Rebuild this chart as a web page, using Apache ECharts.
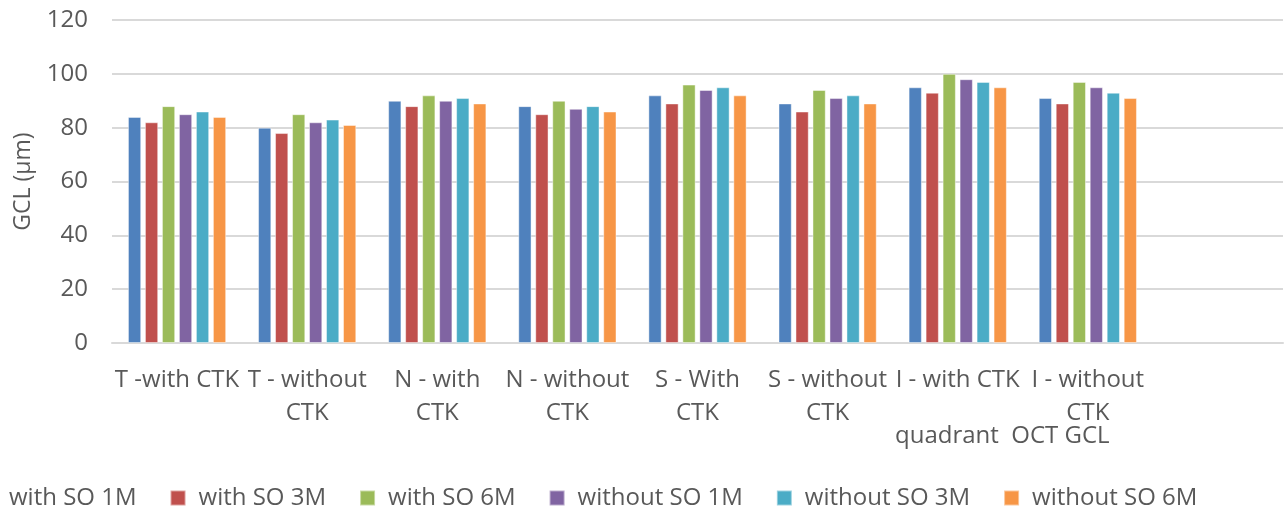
<!DOCTYPE html>
<html>
<head>
<meta charset="utf-8">
<style>
  html, body { margin: 0; padding: 0; background: #ffffff; }
  #chart { width: 1287px; height: 510px; }
</style>
<script src="https://cdn.jsdelivr.net/npm/echarts@6/dist/echarts.min.js"></script>
</head>
<body>
<div id="chart"></div>
<script>
// Quadrant OCT GCL thickness by group and follow-up month
const categories = [
  'T -with CTK', 'T - without\nCTK', 'N - with\nCTK', 'N - without\nCTK',
  'S - With\nCTK', 'S - without\nCTK', 'I - with CTK', 'I - without\nCTK', ''
];
const withSO1M    = [84, 80, 90, 88, 92, 89, 95, 91];
const withSO3M    = [82, 78, 88, 85, 89, 86, 93, 89];
const withSO6M    = [88, 85, 92, 90, 96, 94, 100, 97];
const withoutSO1M = [85, 82, 90, 87, 94, 91, 98, 95];
const withoutSO3M = [86, 83, 91, 88, 95, 92, 97, 93];
const withoutSO6M = [84, 81, 89, 86, 92, 89, 95, 91];
const seriesNames = ['with SO 1M', 'with SO 3M', 'with SO 6M', 'without SO 1M', 'without SO 3M', 'without SO 6M'];
const yTicks = { min: 0, max: 120, interval: 20 };
const yName = 'GCL (µm)';
const xName = 'quadrant  OCT GCL';

const palette = ['#4F81BD', '#C0504D', '#9BBB59', '#8064A2', '#4BACC6', '#F79646'];
const values = [withSO1M, withSO3M, withSO6M, withoutSO1M, withoutSO3M, withoutSO6M];
const FONT = '"Open Sans", "Liberation Sans", sans-serif';
const TEXT = '#595959';

const chart = echarts.init(document.getElementById('chart'), null, { renderer: 'canvas' });

chart.setOption({
  animation: false,
  color: palette,
  textStyle: { fontFamily: FONT, color: TEXT },
  title: {
    text: xName,
    left: 895,
    top: 424,
    padding: 0,
    textStyle: { fontFamily: FONT, fontSize: 24, fontWeight: 'normal', color: TEXT }
  },
  grid: { left: 112, right: 4, top: 20, bottom: 167, containLabel: false },
  legend: {
    data: seriesNames,
    left: -20,
    top: 486,
    padding: 0,
    itemWidth: 15,
    itemHeight: 15,
    itemGap: 33,
    icon: 'rect',
    textStyle: { fontFamily: FONT, fontSize: 24, color: TEXT, padding: [0, 0, 0, 8] }
  },
  xAxis: {
    type: 'category',
    data: categories,
    axisLine: { lineStyle: { color: '#d9d9d9', width: 2 } },
    axisTick: { show: false },
    axisLabel: {
      interval: 0,
      margin: 21,
      fontFamily: FONT,
      fontSize: 24,
      lineHeight: 33,
      color: TEXT
    }
  },
  yAxis: {
    type: 'value',
    min: yTicks.min,
    max: yTicks.max,
    interval: yTicks.interval,
    name: yName,
    nameLocation: 'middle',
    nameRotate: 90,
    nameGap: 77,
    nameTextStyle: { fontFamily: FONT, fontSize: 23, color: TEXT },
    axisLine: { show: false },
    axisTick: { show: false },
    axisLabel: { margin: 24, fontFamily: FONT, fontSize: 24, color: TEXT },
    splitLine: { lineStyle: { color: '#d9d9d9', width: 2 } }
  },
  series: values.map((v, i) => ({
    name: seriesNames[i],
    type: 'bar',
    data: v,
    barGap: '28%',
    barCategoryGap: '24.5%',
    itemStyle: {
      color: palette[i],
      borderColor: 'rgba(255,255,255,0.45)',
      borderWidth: 1
    }
  }))
});
</script>
</body>
</html>
